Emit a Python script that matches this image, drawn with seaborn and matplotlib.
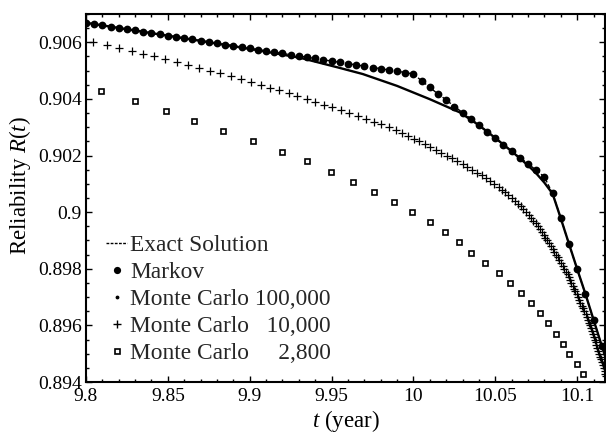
import matplotlib
matplotlib.use("Agg")
import matplotlib.pyplot as plt
import seaborn as sns
from matplotlib.lines import Line2D
from matplotlib.ticker import MultipleLocator

# ---------------- data ----------------
markov_t = [9.800, 9.805, 9.810, 9.815, 9.820, 9.825, 9.830, 9.835, 9.840, 9.845,
            9.850, 9.855, 9.860, 9.865, 9.870, 9.875, 9.880, 9.885, 9.890, 9.895,
            9.900, 9.905, 9.910, 9.915, 9.920, 9.925, 9.930, 9.935, 9.940, 9.945,
            9.950, 9.955, 9.960, 9.965, 9.970, 9.975, 9.980, 9.985, 9.990, 9.995,
            10.000, 10.005, 10.010, 10.015, 10.020, 10.025, 10.030, 10.035, 10.040, 10.045,
            10.050, 10.055, 10.060, 10.065, 10.070, 10.075, 10.080, 10.085, 10.090, 10.095,
            10.100, 10.105, 10.110, 10.115]
markov_R = [0.90669, 0.90664, 0.90660, 0.90655, 0.90651, 0.90646, 0.90642, 0.90637, 0.90633, 0.90628,
            0.90624, 0.90619, 0.90615, 0.90610, 0.90606, 0.90601, 0.90597, 0.90592, 0.90588, 0.90583,
            0.90579, 0.90574, 0.90570, 0.90565, 0.90561, 0.90556, 0.90552, 0.90547, 0.90543, 0.90538,
            0.90534, 0.90529, 0.90525, 0.90520, 0.90516, 0.90511, 0.90507, 0.90502, 0.90498, 0.90493,
            0.90488, 0.90464, 0.90441, 0.90417, 0.90397, 0.90373, 0.90352, 0.90330, 0.90307, 0.90284,
            0.90262, 0.90237, 0.90215, 0.90193, 0.90171, 0.90148, 0.90124, 0.90066, 0.89979, 0.89887,
            0.89799, 0.89712, 0.89620, 0.89528]

# Exact solution (dashed) follows the Markov values
exact_t = markov_t
exact_R = markov_R

mc100k_t = [9.800, 9.835, 9.870, 9.906, 9.931, 9.954, 9.969, 9.990, 10.010, 10.0285,
            10.040, 10.050, 10.060, 10.065, 10.070, 10.075, 10.080, 10.085, 10.090, 10.095,
            10.100, 10.105, 10.110, 10.115, 10.118]
mc100k_R = [0.90669, 0.90637, 0.90605, 0.90571, 0.90545, 0.90511, 0.90488, 0.90446, 0.90399, 0.90352,
            0.90307, 0.90262, 0.90215, 0.90190, 0.90165, 0.90137, 0.90104, 0.90065, 0.89978, 0.89888,
            0.89799, 0.89712, 0.89620, 0.89528, 0.89475]

mc10k_t = [9.8045, 9.8126, 9.8203, 9.8279, 9.8346, 9.8415, 9.8485, 9.8554, 9.8625, 9.8692,
           9.8758, 9.8819, 9.8884, 9.8947, 9.9006, 9.9067, 9.9124, 9.9181, 9.9239, 9.9291,
           9.9349, 9.9401, 9.9454, 9.9503, 9.9556, 9.9609, 9.9663, 9.9713, 9.9757, 9.9803,
           9.9848, 9.9893, 9.9931, 9.9966, 10.0001, 10.0035, 10.0070, 10.0104, 10.0137, 10.0170,
           10.0203, 10.0236, 10.0269, 10.0300, 10.0330, 10.0359, 10.0389, 10.0418, 10.0445, 10.0470,
           10.0495, 10.0520, 10.0541, 10.0560, 10.0580, 10.0599, 10.0618, 10.0637, 10.0654, 10.0671,
           10.0689, 10.0706, 10.0720, 10.0733, 10.0746, 10.0759, 10.0772, 10.0783, 10.0795, 10.0806,
           10.0817, 10.0829, 10.0840, 10.0850, 10.0861, 10.0871, 10.0881, 10.0891, 10.0901, 10.0912,
           10.0922, 10.0932, 10.0941, 10.0949, 10.0957, 10.0965, 10.0973, 10.0981, 10.0989, 10.0996,
           10.1004, 10.1012, 10.1020, 10.1028, 10.1036, 10.1044, 10.1051, 10.1060, 10.1066, 10.1072,
           10.1077, 10.1083, 10.1089, 10.1095, 10.1100, 10.1106, 10.1112, 10.1117, 10.1124, 10.1129,
           10.1135, 10.1141, 10.1146, 10.1151, 10.1157, 10.1161, 10.1167, 10.1172, 10.1177]
mc10k_R = [0.9060, 0.9059, 0.9058, 0.9057, 0.9056, 0.9055, 0.9054, 0.9053, 0.9052, 0.9051,
           0.9050, 0.9049, 0.9048, 0.9047, 0.9046, 0.9045, 0.9044, 0.9043, 0.9042, 0.9041,
           0.9040, 0.9039, 0.9038, 0.9037, 0.9036, 0.9035, 0.9034, 0.9033, 0.9032, 0.9031,
           0.9030, 0.9029, 0.9028, 0.9027, 0.9026, 0.9025, 0.9024, 0.9023, 0.9022, 0.9021,
           0.9020, 0.9019, 0.9018, 0.9017, 0.9016, 0.9015, 0.9014, 0.9013, 0.9012, 0.9011,
           0.9010, 0.9009, 0.9008, 0.9007, 0.9006, 0.9005, 0.9004, 0.9003, 0.9002, 0.9001,
           0.9000, 0.8999, 0.8998, 0.8997, 0.8996, 0.8995, 0.8994, 0.8993, 0.8992, 0.8991,
           0.8990, 0.8989, 0.8988, 0.8987, 0.8986, 0.8985, 0.8984, 0.8983, 0.8982, 0.8981,
           0.8980, 0.8979, 0.8978, 0.8977, 0.8976, 0.8975, 0.8974, 0.8973, 0.8972, 0.8971,
           0.8970, 0.8969, 0.8968, 0.8967, 0.8966, 0.8965, 0.8964, 0.8963, 0.8962, 0.8961,
           0.8960, 0.8959, 0.8958, 0.8957, 0.8956, 0.8955, 0.8954, 0.8953, 0.8952, 0.8951,
           0.8950, 0.8949, 0.8948, 0.8947, 0.8946, 0.8945, 0.8944, 0.8943, 0.8942]

mc2800_t = [9.8092, 9.8299, 9.8487, 9.8662, 9.8839, 9.9019, 9.9196, 9.9352, 9.9495, 9.9633,
            9.9760, 9.9880, 9.9992, 10.0102, 10.0194, 10.0277, 10.0354, 10.0434, 10.0523, 10.0591,
            10.0656, 10.0715, 10.0770, 10.0821, 10.0870, 10.0915, 10.0953, 10.0996, 10.1035]
mc2800_R = [0.90429, 0.90393, 0.90357, 0.90321, 0.90286, 0.90250, 0.90214, 0.90179, 0.90143, 0.90107,
            0.90071, 0.90036, 0.90000, 0.89964, 0.89929, 0.89893, 0.89857, 0.89821, 0.89786, 0.89750,
            0.89714, 0.89679, 0.89643, 0.89607, 0.89571, 0.89536, 0.89500, 0.89464, 0.89429]

x_ticks = [9.8, 9.85, 9.9, 9.95, 10.0, 10.05, 10.1]
x_tick_labels = ["9.8", "9.85", "9.9", "9.95", "10", "10.05", "10.1"]
y_ticks = [0.894, 0.896, 0.898, 0.9, 0.902, 0.904, 0.906]
y_tick_labels = ["0.894", "0.896", "0.898", "0.9", "0.902", "0.904", "0.906"]

legend_labels = ["Exact Solution", "Markov", "Monte Carlo 100,000",
                 "Monte Carlo   10,000", "Monte Carlo     2,800"]

# ---------------- style ----------------
sns.set_theme(style="ticks")
plt.rcParams["font.family"] = ["Liberation Serif", "DejaVu Serif"]
plt.rcParams["mathtext.fontset"] = "custom"
plt.rcParams["mathtext.rm"] = "Liberation Serif"
plt.rcParams["mathtext.it"] = "Liberation Serif:italic"

fig = plt.figure(figsize=(6.06, 4.36), dpi=100)
ax = fig.add_axes([86 / 606, 1 - 382 / 436, 519 / 606, 368 / 436])

sns.lineplot(x=mc100k_t, y=mc100k_R, ax=ax, color="black", lw=1.7,
             estimator=None, sort=False)
sns.lineplot(x=exact_t, y=exact_R, ax=ax, color="black", lw=1.0,
             linestyle=(0, (3, 1.5)), estimator=None, sort=False)
sns.lineplot(x=mc10k_t, y=mc10k_R, ax=ax, color="black", linestyle="",
             marker="+", markersize=5.5, markeredgewidth=0.9,
             markeredgecolor="black",
             estimator=None, sort=False)
sns.lineplot(x=mc2800_t, y=mc2800_R, ax=ax, color="black", linestyle="",
             marker="s", markersize=3.6, markerfacecolor="white",
             markeredgecolor="black", markeredgewidth=1.2,
             estimator=None, sort=False)
sns.lineplot(x=markov_t, y=markov_R, ax=ax, color="black", linestyle="",
             marker="o", markersize=5.6, markeredgewidth=0,
             estimator=None, sort=False)

ax.set_xlim(9.8, 10.117)
ax.set_ylim(0.894, 0.907)
ax.set_xticks(x_ticks)
ax.set_xticklabels(x_tick_labels)
ax.set_yticks(y_ticks)
ax.set_yticklabels(y_tick_labels)
ax.xaxis.set_minor_locator(MultipleLocator(0.01))
ax.yaxis.set_minor_locator(MultipleLocator(0.0005))
ax.tick_params(which="both", direction="in", top=True, right=True,
               colors="black", width=1.0, labelsize=14)
ax.tick_params(which="major", length=4.5, pad=4)
ax.tick_params(which="minor", length=2.5)
ax.tick_params(axis="y", pad=3)
for s in ax.spines.values():
    s.set_linewidth(1.5)
    s.set_color("black")

ax.set_ylabel("Reliability $R$($t$)", fontsize=16.5, color="black")
ax.set_xlabel("$t$ (year)", fontsize=16.5, color="black")
ax.yaxis.set_label_coords(-0.102, 0.533)
ax.xaxis.set_label_coords(0.5, -0.07)

handles = [
    Line2D([], [], color="black", lw=1.0, linestyle=(0, (2, 1))),
    Line2D([], [], color="black", linestyle="", marker="o", markersize=5.2, markeredgewidth=0),
    Line2D([], [], color="black", linestyle="", marker=".", markersize=3.5),
    Line2D([], [], color="black", linestyle="", marker="+", markersize=5.5, markeredgewidth=1.0),
    Line2D([], [], color="black", linestyle="", marker="s", markersize=3.6,
           markerfacecolor="white", markeredgecolor="black", markeredgewidth=1.2),
]
ax.legend(handles, legend_labels, loc="lower left",
          bbox_to_anchor=((106 - 86) / 519, (382 - 364) / 368),
          frameon=False, fontsize=16.8, handlelength=0.9, handletextpad=0.15,
          labelspacing=0.24, borderpad=0, borderaxespad=0)

fig.savefig("out.png", dpi=100)
